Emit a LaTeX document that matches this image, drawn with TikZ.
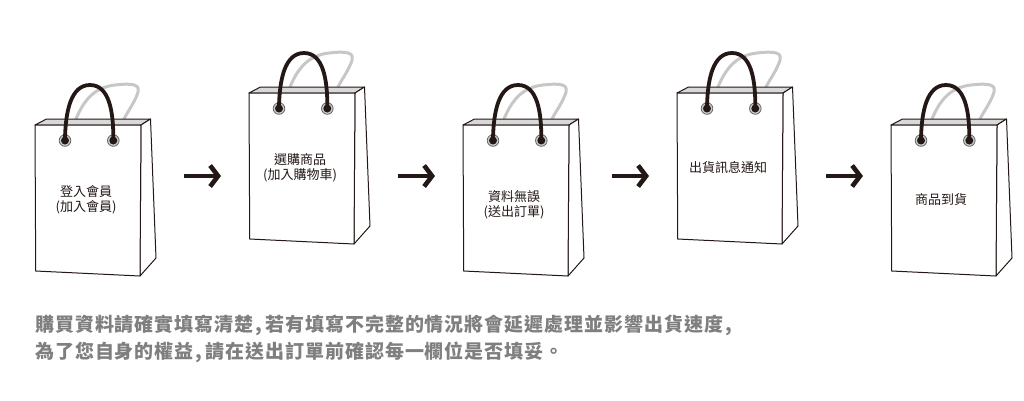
\documentclass[tikz,border=0pt]{standalone}
\usepackage{fontspec}
\setmainfont{Noto Sans CJK TC}
\newfontfamily\notefont[LetterSpace=5]{Noto Sans CJK TC}
\usetikzlibrary{arrows.meta}
\definecolor{bagline}{HTML}{231815}
\definecolor{notegray}{HTML}{7F7F7F}

\begin{document}
\begin{tikzpicture}[x=1pt,y=-1pt,
  bagedge/.style={draw=bagline,line width=1pt,line join=round},
  baglabel/.style={align=center,text=bagline,font=\fontsize{13}{15}\selectfont},
  noteline/.style={anchor=west,inner sep=0pt,text=notegray,font=\fontsize{19}{22}\notefont\bfseries},
  flowarrow/.style={draw=bagline,line width=4.6pt,-{Straight Barb[length=8pt,width=21pt,line width=4.6pt]}},
  bag/.pic={
    \draw[draw=black!22,line width=3pt,line cap=round]
      (41,-6) .. controls (50,-28) and (62,-38) .. (80,-40)
      .. controls (98,-42) and (107,-41) .. (102,-30) .. controls (98,-20) and (93,-14) .. (89,-6);
    \draw[bagedge,fill=black!15] (0,0) -- (11.5,-6) -- (115.5,-6) -- (106,0) -- cycle;
    \draw[bagedge,fill=white] (106,0) -- (115.5,-6) -- (121,133) -- (105,151) -- cycle;
    \draw[bagedge,fill=white] (0,0) -- (106,0) -- (105,151) -- (0.7,146) -- cycle;
    \foreach \eyex in {30,78.3} {
      \draw[black!60,fill=black!20,line width=0.8pt] (\eyex,15.5) circle (5.8);
      \fill[bagline] (\eyex,15.5) circle (4);
    }
    \draw[draw=bagline,line width=3.8pt]
      (30,14) .. controls (30.5,-14) and (36,-40) .. (55,-40)
      .. controls (74,-40) and (78.5,-14) .. (78.3,14);
  }]
\useasboundingbox (0,0) rectangle (1024,400);

\pic at (35,125) {bag};
\pic at (249,93) {bag};
\pic at (463,125) {bag};
\pic at (677,93) {bag};
\pic at (891,125) {bag};

\node[baglabel] (login) at (86,200) {登入會員\\(加入會員)};
\node[baglabel] (choose) at (300,168) {選購商品\\(加入購物車)};
\node[baglabel] (confirm) at (514,205) {資料無誤\\(送出訂單)};
\node[baglabel] (notify) at (728,168) {出貨訊息通知};
\node[baglabel] (arrive) at (941,200) {商品到貨};

\foreach \arrowid/\arrowx in {a/184,b/398,c/612,d/826} {
  \coordinate (\arrowid start) at (\arrowx,176);
  \coordinate (\arrowid end) at (\arrowx+37,176);
  \draw[flowarrow] (\arrowid start) -- (\arrowid end);
}

\node[noteline] (noteone) at (35,325) {購買資料請確實填寫清楚\kern2pt,\kern3pt 若有填寫不完整的情況將會延遲處理並影響出貨速度\kern2pt,};
\node[noteline] (notetwo) at (35,352) {為了您自身的權益\kern2pt,\kern3pt 請在送出訂單前確認每一欄位是否填妥。};
\end{tikzpicture}
\end{document}
